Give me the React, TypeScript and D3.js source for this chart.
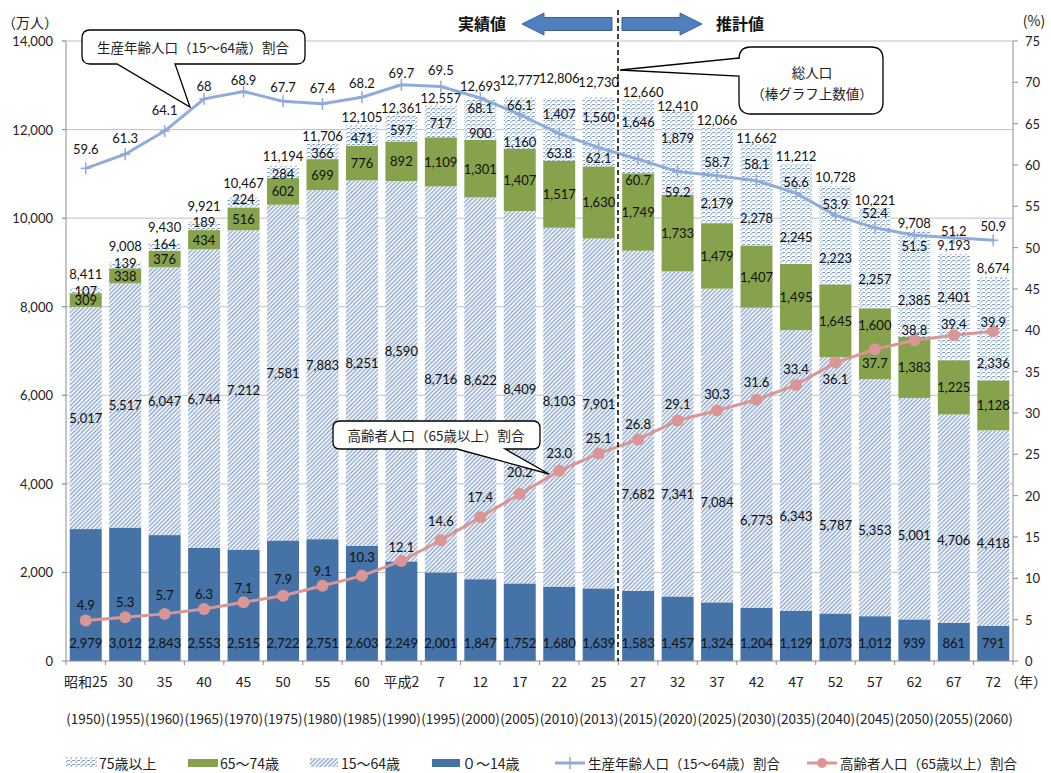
import React from 'react';
import * as d3 from 'd3';

const categories = ['昭和25', '30', '35', '40', '45', '50', '55', '60', '平成2', '7', '12', '17', '22', '25', '27', '32', '37', '42', '47', '52', '57', '62', '67', '72'];
const westernYears = ['1950', '1955', '1960', '1965', '1970', '1975', '1980', '1985', '1990', '1995', '2000', '2005', '2010', '2013', '2015', '2020', '2025', '2030', '2035', '2040', '2045', '2050', '2055', '2060'];

const age0to14 = [2979, 3012, 2843, 2553, 2515, 2722, 2751, 2603, 2249, 2001, 1847, 1752, 1680, 1639, 1583, 1457, 1324, 1204, 1129, 1073, 1012, 939, 861, 791];
const age15to64 = [5017, 5517, 6047, 6744, 7212, 7581, 7883, 8251, 8590, 8716, 8622, 8409, 8103, 7901, 7682, 7341, 7084, 6773, 6343, 5787, 5353, 5001, 4706, 4418];
const age65to74 = [309, 338, 376, 434, 516, 602, 699, 776, 892, 1109, 1301, 1407, 1517, 1630, 1749, 1733, 1479, 1407, 1495, 1645, 1600, 1383, 1225, 1128];
const age75plus = [107, 139, 164, 189, 224, 284, 366, 471, 597, 717, 900, 1160, 1407, 1560, 1646, 1879, 2179, 2278, 2245, 2223, 2257, 2385, 2401, 2336];
const totalPop = [8411, 9008, 9430, 9921, 10467, 11194, 11706, 12105, 12361, 12557, 12693, 12777, 12806, 12730, 12660, 12410, 12066, 11662, 11212, 10728, 10221, 9708, 9193, 8674];
const workingAgeRatio = [59.6, 61.3, 64.1, 68, 68.9, 67.7, 67.4, 68.2, 69.7, 69.5, 68.1, 66.1, 63.8, 62.1, 60.7, 59.2, 58.7, 58.1, 56.6, 53.9, 52.4, 51.5, 51.2, 50.9];
const elderlyRatio = [4.9, 5.3, 5.7, 6.3, 7.1, 7.9, 9.1, 10.3, 12.1, 14.6, 17.4, 20.2, 23.0, 25.1, 26.8, 29.1, 30.3, 31.6, 33.4, 36.1, 37.7, 38.8, 39.4, 39.9];

const popTicks = [0, 2000, 4000, 6000, 8000, 10000, 12000, 14000];
const ratioTicks = [0, 5, 10, 15, 20, 25, 30, 35, 40, 45, 50, 55, 60, 65, 70, 75];

// hand-placed label nudges (px), as in the original
const totalDy = [-15, -16, -16, -16, -14, -9, -7, -8, -6, -7, -13, -15, -16, -15, -8, -5, -7, -7, -8, -9, -8, -8, -9, -9];
const dy15to64 = [0, 0, 0, 0, 0, 0, 0, 0, -20, 0, -8, -8, -6, -9, 73, 60, 56, 62, 45, 40, 32, 26, 21, 15];
const dy65to74 = [0, 0, 0, 0, 0, 0, 0, 0, 0, 0, 0, 0, 0, 0, 0, 0, 0, 0, 0, 0, -19, 0, 0, 0];
const dy75plus = [0, -2, -3, -4, -3, 2, 2, 2, 2, 2, 13, 19, -15, -15, -15, -15, 28, 23, 23, 23, 21, 16, -10, 34];
const dyWorking = [-19, -16, -21, -13, -11, -14, -16, -14, -12, -16, 10, -10, 19, 10, 21, 20, -14, -17, -11, -11, -15, 11, -7, -14];
const dyElderly = [-15, -15, -19, -15, -14, -17, -15, -19, -14, -19, -20, -22, -18, -16, -15, -16, -17, -18, -16, 16, 14, -10, -11, -9];

const W = 1051;
const H = 773;
const left = 66;
const right = 1013;
const top = 41;
const bottom = 661;

const jp = "'Noto Sans CJK JP', sans-serif";
const num = "Lato, 'Noto Sans', sans-serif";

const blue = '#4572a7';
const green = '#87a24c';
const lineBlue = '#8eabd9';
const linePink = '#d99694';

function bubble(x0: number, y0: number, w: number, h: number, r: number, side: string, a: number, b: number, tx: number, ty: number) {
  const x1 = x0 + w;
  const y1 = y0 + h;
  let p = `M${x0 + r},${y0} H${x1 - r} Q${x1},${y0} ${x1},${y0 + r} V${y1 - r} Q${x1},${y1} ${x1 - r},${y1}`;
  if (side === 'bottom') {
    p += ` H${b} L${tx},${ty} L${a},${y1}`;
  }
  p += ` H${x0 + r} Q${x0},${y1} ${x0},${y1 - r}`;
  if (side === 'left') {
    p += ` V${b} L${tx},${ty} L${x0},${a}`;
  }
  p += ` V${y0 + r} Q${x0},${y0} ${x0 + r},${y0} Z`;
  return p;
}

export default function App() {
  const n = categories.length;
  const x = d3.scaleBand<number>().domain(d3.range(n)).range([left, right]).paddingInner(0.19).paddingOuter(0.095);
  const y = d3.scaleLinear().domain([0, 14000]).range([bottom, top]);
  const y2 = d3.scaleLinear().domain([0, 75]).range([bottom, top]);
  const fmt = d3.format(',');
  const cx = (i: number) => (x(i) as number) + x.bandwidth() / 2;

  const rows = categories.map((c, i) => ({ i, a: age0to14[i], b: age15to64[i], c: age65to74[i], d: age75plus[i] }));
  const keys = ['a', 'b', 'c', 'd'];
  const series = d3.stack<any>().keys(keys)(rows);
  const fills: { [k: string]: string } = { a: blue, b: 'url(#pB)', c: green, d: 'url(#pD)' };

  const workLine = d3.line<number>().x((d, i) => cx(i)).y((d) => y2(d))(workingAgeRatio) || '';
  const oldLine = d3.line<number>().x((d, i) => cx(i)).y((d) => y2(d))(elderlyRatio) || '';

  const segLabel = (s: any, i: number, dy: number[], text: number) => {
    const d = s[i];
    const mid = (y(d[0]) + y(d[1])) / 2 + dy[i];
    return (
      <text key={s.key + i} x={cx(i)} y={mid} textAnchor="middle" dominantBaseline="central" fontFamily={num} fontSize={13} fill="#111">
        {fmt(text)}
      </text>
    );
  };

  const ly = 763;

  return (
    <div style={{ position: 'absolute', left: 0, top: 0 }}>
      <svg width={W} height={H} style={{ display: 'block', background: '#fff' }}>
        <defs>
          <pattern id="pB" width={3} height={3} patternUnits="userSpaceOnUse" patternTransform="rotate(45)">
            <rect width={3} height={3} fill="#f4f7fb" />
            <line x1={0.6} y1={0} x2={0.6} y2={3} stroke="#7e9cc6" strokeWidth={1.1} />
          </pattern>
          <pattern id="pD" width={5} height={4} patternUnits="userSpaceOnUse">
            <rect width={5} height={4} fill="#fff" />
            <path d="M0,3.5 L2.5,0.5 L5,0.5" fill="none" stroke="#6a90c6" strokeWidth={0.9} />
          </pattern>
        </defs>

        {/* gridlines */}
        {popTicks.filter((t) => t > 0).map((t) => (
          <line key={'g' + t} x1={left - 4} x2={right} y1={y(t)} y2={y(t)} stroke="#c0c0c0" strokeWidth={1} />
        ))}

        {/* bars */}
        {series.map((s) => (
          <g key={s.key}>
            {s.map((d, i) => (
              <rect key={i} x={x(i)} y={y(d[1])} width={x.bandwidth()} height={y(d[0]) - y(d[1])} fill={fills[s.key]} />
            ))}
          </g>
        ))}

        {/* axes */}
        <line x1={left} x2={left} y1={top} y2={bottom} stroke="#8c8c8c" />
        <line x1={left} x2={right} y1={bottom} y2={bottom} stroke="#8c8c8c" />
        <line x1={right} x2={right} y1={top} y2={bottom} stroke="#8c8c8c" />
        {popTicks.map((t) => (
          <g key={'lt' + t}>
            <line x1={left - 4} x2={left} y1={y(t)} y2={y(t)} stroke="#8c8c8c" />
            <text x={53} y={y(t)} textAnchor="end" dominantBaseline="central" fontFamily={num} fontSize={13} fill="#222">
              {fmt(t)}
            </text>
          </g>
        ))}
        {ratioTicks.map((t) => (
          <g key={'rt' + t}>
            <line x1={right} x2={right + 5} y1={y2(t)} y2={y2(t)} stroke="#8c8c8c" />
            <text x={1025} y={y2(t)} textAnchor="start" dominantBaseline="central" fontFamily={num} fontSize={13} fill="#222">
              {t}
            </text>
          </g>
        ))}
        {d3.range(n + 1).map((i) => {
          const xx = left + x.step() * i;
          return <line key={'xt' + i} x1={xx} x2={xx} y1={bottom} y2={bottom + 4} stroke="#8c8c8c" />;
        })}
        {categories.map((c, i) => (
          <text key={'c' + i} x={cx(i)} y={681} textAnchor="middle" dominantBaseline="central" fontFamily={jp} fontSize={14} fill="#222">
            {c}
          </text>
        ))}
        {westernYears.map((c, i) => (
          <text key={'w' + i} x={cx(i)} y={718} textAnchor="middle" dominantBaseline="central" fontFamily={jp} fontSize={13.5} fill="#222">
            {'(' + c + ')'}
          </text>
        ))}
        <text x={1026} y={681} textAnchor="middle" dominantBaseline="central" fontFamily={jp} fontSize={14} fill="#222">（年）</text>
        <text x={30} y={22} textAnchor="middle" dominantBaseline="central" fontFamily={jp} fontSize={14} fill="#222">（万人）</text>
        <text x={1034} y={20} textAnchor="middle" dominantBaseline="central" fontFamily={jp} fontSize={14} fill="#222">(%)</text>

        {/* bar labels */}
        {age0to14.map((v, i) => (
          <text key={'la' + i} x={cx(i)} y={643} textAnchor="middle" dominantBaseline="central" fontFamily={num} fontSize={13} fill="#111">
            {fmt(v)}
          </text>
        ))}
        {age15to64.map((v, i) => segLabel(series[1], i, dy15to64, v))}
        {age65to74.map((v, i) => segLabel(series[2], i, dy65to74, v))}
        {age75plus.map((v, i) => segLabel(series[3], i, dy75plus, v))}
        {totalPop.map((v, i) => (
          <text key={'tot' + i} x={cx(i) + (i === 14 ? 5 : 0)} y={y(v) + totalDy[i]} textAnchor="middle" dominantBaseline="central" fontFamily={num} fontSize={13} fill="#111">
            {fmt(v)}
          </text>
        ))}

        {/* ratio lines */}
        <path d={workLine} fill="none" stroke={lineBlue} strokeWidth={3} />
        {workingAgeRatio.map((v, i) => (
          <g key={'wm' + i} stroke={lineBlue} strokeWidth={1.5}>
            <line x1={cx(i) - 5} x2={cx(i) + 5} y1={y2(v)} y2={y2(v)} />
            <line x1={cx(i)} x2={cx(i)} y1={y2(v) - 6} y2={y2(v) + 6} />
          </g>
        ))}
        <path d={oldLine} fill="none" stroke={linePink} strokeWidth={3} />
        {elderlyRatio.map((v, i) => (
          <circle key={'em' + i} cx={cx(i)} cy={y2(v)} r={6} fill={linePink} />
        ))}
        {workingAgeRatio.map((v, i) => (
          <text key={'wl' + i} x={cx(i)} y={y2(v) + dyWorking[i]} textAnchor="middle" dominantBaseline="central" fontFamily={num} fontSize={13} fill="#111">
            {v}
          </text>
        ))}
        {elderlyRatio.map((v, i) => (
          <text key={'el' + i} x={cx(i)} y={y2(v) + dyElderly[i]} textAnchor="middle" dominantBaseline="central" fontFamily={num} fontSize={13} fill="#111">
            {v.toFixed(1)}
          </text>
        ))}

        {/* actual / projected divider */}
        <line x1={618} x2={618} y1={10} y2={bottom} stroke="#000" strokeWidth={1.5} strokeDasharray="5,3" />
        <path d="M522,24 L544,13 L544,17.5 L612,17.5 L612,30.5 L544,30.5 L544,35 Z" fill="#4f7fbd" stroke="#3a619a" strokeWidth={1} />
        <path d="M702,24 L680,13 L680,17.5 L622,17.5 L622,30.5 L680,30.5 L680,35 Z" fill="#4f7fbd" stroke="#3a619a" strokeWidth={1} />
        <text x={482} y={23} textAnchor="middle" dominantBaseline="central" fontFamily={jp} fontSize={16} fontWeight={700} fill="#111">実績値</text>
        <text x={740} y={23} textAnchor="middle" dominantBaseline="central" fontFamily={jp} fontSize={16} fontWeight={700} fill="#111">推計値</text>

        {/* callouts */}
        <path d={bubble(82, 30, 223, 34, 8, 'bottom', 117, 175, 190, 107)} fill="#fff" stroke="#000" strokeWidth={1.3} />
        <text x={193} y={47} textAnchor="middle" dominantBaseline="central" fontFamily={jp} fontSize={13.5} fill="#222">生産年齢人口（15～64歳）割合</text>
        <path d={bubble(739, 47, 144, 67, 12, 'left', 58, 76, 620, 70)} fill="#fff" stroke="#000" strokeWidth={1.3} />
        <text x={812} y={72} textAnchor="middle" dominantBaseline="central" fontFamily={jp} fontSize={13.5} fill="#222">総人口</text>
        <text x={812} y={93} textAnchor="middle" dominantBaseline="central" fontFamily={jp} fontSize={13.5} fill="#222">（棒グラフ上数値）</text>
        <path d={bubble(333, 421, 207, 28, 7, 'bottom', 457, 505, 549, 474)} fill="#fff" stroke="#000" strokeWidth={1.3} />
        <text x={436} y={435} textAnchor="middle" dominantBaseline="central" fontFamily={jp} fontSize={13.5} fill="#222">高齢者人口（65歳以上）割合</text>

        {/* legend */}
        <g fontFamily={jp} fontSize={14} fill="#222">
          <rect x={66} y={ly - 6} width={31} height={10} fill="url(#pD)" />
          <text x={99} y={ly} dominantBaseline="central">75歳以上</text>
          <rect x={188} y={ly - 4} width={30} height={8} fill={green} />
          <text x={220} y={ly} dominantBaseline="central">65～74歳</text>
          <rect x={310} y={ly - 5} width={28} height={9} fill="url(#pB)" />
          <text x={341} y={ly} dominantBaseline="central">15～64歳</text>
          <rect x={432} y={ly - 4} width={28} height={8} fill={blue} />
          <text x={462} y={ly} dominantBaseline="central">０～14歳</text>
          <line x1={555} x2={585} y1={ly} y2={ly} stroke={lineBlue} strokeWidth={3} />
          <line x1={570} x2={570} y1={ly - 6} y2={ly + 6} stroke={lineBlue} strokeWidth={1.5} />
          <text x={588} y={ly} dominantBaseline="central" fontSize={13.5}>生産年齢人口（15～64歳）割合</text>
          <line x1={807} x2={837} y1={ly} y2={ly} stroke={linePink} strokeWidth={3} />
          <circle cx={822} cy={ly} r={5} fill={linePink} />
          <text x={840} y={ly} dominantBaseline="central" fontSize={13.5}>高齢者人口（65歳以上）割合</text>
        </g>
      </svg>
    </div>
  );
}
